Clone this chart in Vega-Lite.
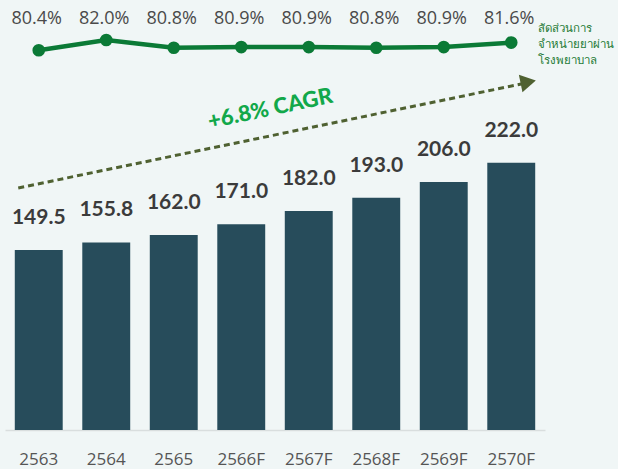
{
  "$schema": "https://vega.github.io/schema/vega-lite/v6.json",
  "width": 540,
  "height": 430,
  "autosize": {"type": "none"},
  "padding": {"left": 5, "top": 0, "right": 73, "bottom": 39},
  "background": "#F0F6F6",
  "config": {
    "view": {"stroke": null},
    "font": "Lato",
    "axis": {"grid": false}
  },
  "data": {
    "values": [
      {"year": "2563", "value": 149.5, "pct": 0.804},
      {"year": "2564", "value": 155.8, "pct": 0.820},
      {"year": "2565", "value": 162.0, "pct": 0.808},
      {"year": "2566F", "value": 171.0, "pct": 0.809},
      {"year": "2567F", "value": 182.0, "pct": 0.809},
      {"year": "2568F", "value": 193.0, "pct": 0.808},
      {"year": "2569F", "value": 206.0, "pct": 0.809},
      {"year": "2570F", "value": 222.0, "pct": 0.816}
    ]
  },
  "encoding": {
    "x": {
      "field": "year",
      "type": "nominal",
      "sort": null,
      "scale": {
        "domain": ["2563", "2564", "2565", "2566F", "2567F", "2568F", "2569F", "2570F"],
        "paddingInner": 0.29,
        "paddingOuter": 0.145
      },
      "axis": {
        "title": null,
        "labelAngle": 0,
        "ticks": false,
        "domainColor": "#D9DEDE",
        "domainWidth": 1.5,
        "labelFontSize": 17,
        "labelColor": "#555555",
        "labelPadding": 21,
        "labelBaseline": "top",
        "labelFont": "Open Sans"
      }
    }
  },
  "layer": [
    {
      "mark": {"type": "bar", "color": "#274C5B"},
      "encoding": {
        "y": {"field": "value", "type": "quantitative", "scale": {"domain": [0, 357.3], "nice": false, "zero": false}, "axis": null}
      }
    },
    {
      "mark": {"type": "text", "baseline": "alphabetic", "dy": -26, "fontSize": 21, "fontWeight": "bold", "color": "#3B3B3B", "font": "Lato"},
      "encoding": {
        "y": {"field": "value", "type": "quantitative", "scale": {"domain": [0, 357.3], "nice": false, "zero": false}, "axis": null},
        "text": {"field": "value", "type": "quantitative", "format": ".1f"}
      }
    },
    {
      "mark": {"type": "line", "color": "#0B7A36", "strokeWidth": 4.5},
      "encoding": {
        "y": {"field": "pct", "type": "quantitative", "scale": {"domain": [0.2144, 0.8821], "nice": false, "zero": false}, "axis": null}
      }
    },
    {
      "mark": {"type": "point", "filled": true, "opacity": 1, "color": "#0B7A36", "size": 160},
      "encoding": {
        "y": {"field": "pct", "type": "quantitative", "scale": {"domain": [0.2144, 0.8821], "nice": false, "zero": false}, "axis": null}
      }
    },
    {
      "mark": {"type": "text", "baseline": "middle", "fontSize": 18, "color": "#4A4A4A", "font": "Open Sans", "xOffset": -2},
      "encoding": {
        "y": {"datum": 0.8526, "type": "quantitative", "scale": {"domain": [0.2144, 0.8821], "nice": false, "zero": false}, "axis": null},
        "text": {"field": "pct", "type": "quantitative", "format": ".1%"}
      }
    },
    {
      "data": {"values": [{"start": "2563", "end": "2570F", "from": 201.1, "to": 287.5}]},
      "mark": {"type": "rule", "color": "#4F6131", "strokeWidth": 3, "strokeDash": [6, 4], "xOffset": -20.5, "x2Offset": 10},
      "encoding": {
        "x": {"field": "start", "type": "nominal"},
        "x2": {"field": "end"},
        "y": {"field": "from", "type": "quantitative", "scale": {"domain": [0, 357.3], "nice": false, "zero": false}, "axis": null},
        "y2": {"field": "to"}
      }
    },
    {
      "data": {"values": [{"at": "2570F", "level": 289.2}]},
      "mark": {"type": "point", "shape": "triangle-right", "filled": true, "opacity": 1, "color": "#4F6131", "size": 320, "angle": 348.4, "xOffset": 17},
      "encoding": {
        "x": {"field": "at", "type": "nominal"},
        "y": {"field": "level", "type": "quantitative", "scale": {"domain": [0, 357.3], "nice": false, "zero": false}, "axis": null}
      }
    },
    {
      "data": {"values": [{"at": "2566F", "level": 267.0, "label": "+6.8% CAGR"}]},
      "mark": {"type": "text", "fontSize": 22, "fontWeight": 900, "color": "#12A84A", "angle": 348, "xOffset": 29, "baseline": "middle", "font": "Lato"},
      "encoding": {
        "x": {"field": "at", "type": "nominal"},
        "y": {"field": "level", "type": "quantitative", "scale": {"domain": [0, 357.3], "nice": false, "zero": false}, "axis": null},
        "text": {"field": "label"}
      }
    },
    {
      "data": {"values": [{"at": "2570F", "level": 338.2, "label": "สัดส่วนการ\nจำหน่ายยาผ่าน\nโรงพยาบาล"}]},
      "mark": {"type": "text", "fontSize": 11.5, "color": "#1F7A35", "align": "left", "baseline": "top", "lineBreak": "\n", "lineHeight": 16, "xOffset": 27, "font": "Noto Sans"},
      "encoding": {
        "x": {"field": "at", "type": "nominal"},
        "y": {"field": "level", "type": "quantitative", "scale": {"domain": [0, 357.3], "nice": false, "zero": false}, "axis": null},
        "text": {"field": "label"}
      }
    }
  ],
  "resolve": {"scale": {"y": "independent"}}
}
